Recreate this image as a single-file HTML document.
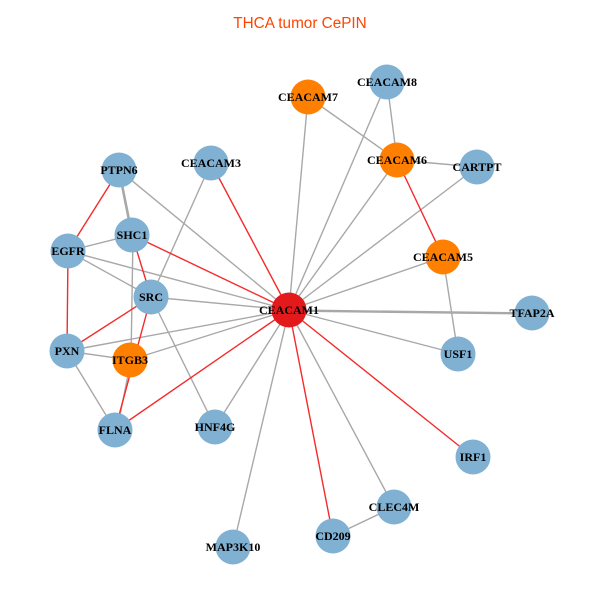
<!DOCTYPE html>
<html>
<head>
<meta charset="utf-8">
<style>
html,body{margin:0;padding:0;background:#fff;}
svg{display:block;}
.t{font-family:"Liberation Sans",sans-serif;font-size:15.3px;fill:#FF4500;}
.l{font-family:"Liberation Serif",serif;font-weight:bold;font-size:12px;fill:#000;}
</style>
</head>
<body>
<svg width="600" height="600" viewBox="0 0 600 600" xmlns="http://www.w3.org/2000/svg">
<rect width="600" height="600" fill="#fff"/>
<text class="t" x="300" y="28" text-anchor="middle">THCA tumor CePIN</text>
<g stroke="#A8A8A8" stroke-width="1.4" fill="none">
<line x1="308" y1="97" x2="289" y2="310"/>
<line x1="308" y1="97" x2="397" y2="160"/>
<line x1="387" y1="82" x2="397" y2="160"/>
<line x1="387" y1="82" x2="289" y2="310"/>
<line x1="397" y1="160" x2="477" y2="167"/>
<line x1="397" y1="160" x2="289" y2="310"/>
<line x1="477" y1="167" x2="289" y2="310"/>
<line x1="443" y1="257" x2="289" y2="310"/>
<line x1="443" y1="257" x2="458" y2="354"/>
<line x1="289" y1="310" x2="532" y2="313"/>
<line x1="289" y1="311" x2="532" y2="314"/>
<line x1="289" y1="310" x2="458" y2="354"/>
<line x1="289" y1="310" x2="394" y2="507"/>
<line x1="394" y1="507" x2="333" y2="536"/>
<line x1="289" y1="310" x2="233" y2="547"/>
<line x1="289" y1="310" x2="215" y2="427"/>
<line x1="289" y1="310" x2="130" y2="360"/>
<line x1="289" y1="310" x2="67" y2="351"/>
<line x1="289" y1="310" x2="151" y2="297"/>
<line x1="289" y1="310" x2="68" y2="251"/>
<line x1="289" y1="310" x2="119" y2="170"/>
<line x1="211" y1="163" x2="151" y2="297"/>
<line x1="119" y1="170" x2="132" y2="235" stroke-width="2.6"/>
<line x1="68" y1="251" x2="132" y2="235"/>
<line x1="68" y1="251" x2="151" y2="297"/>
<line x1="133" y1="235" x2="131" y2="360"/>
<line x1="151" y1="297" x2="215" y2="427"/>
<line x1="67" y1="351" x2="130" y2="360"/>
<line x1="67" y1="351" x2="115" y2="430"/>
<line x1="131" y1="360" x2="117" y2="430"/>
</g>
<g stroke="#F52A2A" stroke-width="1.4" fill="none">
<line x1="397" y1="160" x2="443" y2="257"/>
<line x1="289" y1="310" x2="473" y2="457"/>
<line x1="289" y1="310" x2="333" y2="536"/>
<line x1="289" y1="310" x2="115" y2="430"/>
<line x1="289" y1="310" x2="132" y2="235"/>
<line x1="289" y1="310" x2="211" y2="163"/>
<line x1="119" y1="170" x2="68" y2="251"/>
<line x1="68" y1="251" x2="67" y2="351"/>
<line x1="132" y1="235" x2="151" y2="297"/>
<line x1="151" y1="297" x2="115" y2="430"/>
<line x1="151" y1="297" x2="67" y2="351"/>
</g>
<g>
<circle cx="308" cy="97" r="17.5" fill="#FF7F00"/>
<circle cx="387" cy="82" r="17.5" fill="#80B1D3"/>
<circle cx="397" cy="160" r="17.5" fill="#FF7F00"/>
<circle cx="477" cy="167" r="17.5" fill="#80B1D3"/>
<circle cx="443" cy="257" r="17.5" fill="#FF7F00"/>
<circle cx="532" cy="313" r="17.5" fill="#80B1D3"/>
<circle cx="458" cy="354" r="17.5" fill="#80B1D3"/>
<circle cx="473" cy="457" r="17.5" fill="#80B1D3"/>
<circle cx="394" cy="507" r="17.5" fill="#80B1D3"/>
<circle cx="333" cy="536" r="17.5" fill="#80B1D3"/>
<circle cx="233" cy="547" r="17.5" fill="#80B1D3"/>
<circle cx="215" cy="427" r="17.5" fill="#80B1D3"/>
<circle cx="115" cy="430" r="17.5" fill="#80B1D3"/>
<circle cx="130" cy="360" r="17.5" fill="#FF7F00"/>
<circle cx="67" cy="351" r="17.5" fill="#80B1D3"/>
<circle cx="151" cy="297" r="17.5" fill="#80B1D3"/>
<circle cx="68" cy="251" r="17.5" fill="#80B1D3"/>
<circle cx="132" cy="235" r="17.5" fill="#80B1D3"/>
<circle cx="119" cy="170" r="17.5" fill="#80B1D3"/>
<circle cx="211" cy="163" r="17.5" fill="#80B1D3"/>
<circle cx="289" cy="310" r="17.5" fill="#E31A1C"/>
</g>
<g class="l" text-anchor="middle">
<text class="l" x="308" y="101">CEACAM7</text>
<text class="l" x="387" y="86">CEACAM8</text>
<text class="l" x="397" y="164">CEACAM6</text>
<text class="l" x="477" y="171">CARTPT</text>
<text class="l" x="443" y="261">CEACAM5</text>
<text class="l" x="532" y="317">TFAP2A</text>
<text class="l" x="458" y="358">USF1</text>
<text class="l" x="473" y="461">IRF1</text>
<text class="l" x="394" y="511">CLEC4M</text>
<text class="l" x="333" y="540">CD209</text>
<text class="l" x="233" y="551">MAP3K10</text>
<text class="l" x="215" y="431">HNF4G</text>
<text class="l" x="115" y="434">FLNA</text>
<text class="l" x="130" y="364">ITGB3</text>
<text class="l" x="67" y="355">PXN</text>
<text class="l" x="151" y="301">SRC</text>
<text class="l" x="68" y="255">EGFR</text>
<text class="l" x="132" y="239">SHC1</text>
<text class="l" x="119" y="174">PTPN6</text>
<text class="l" x="211" y="167">CEACAM3</text>
<text class="l" x="289" y="314">CEACAM1</text>
</g>
</svg>
</body>
</html>
